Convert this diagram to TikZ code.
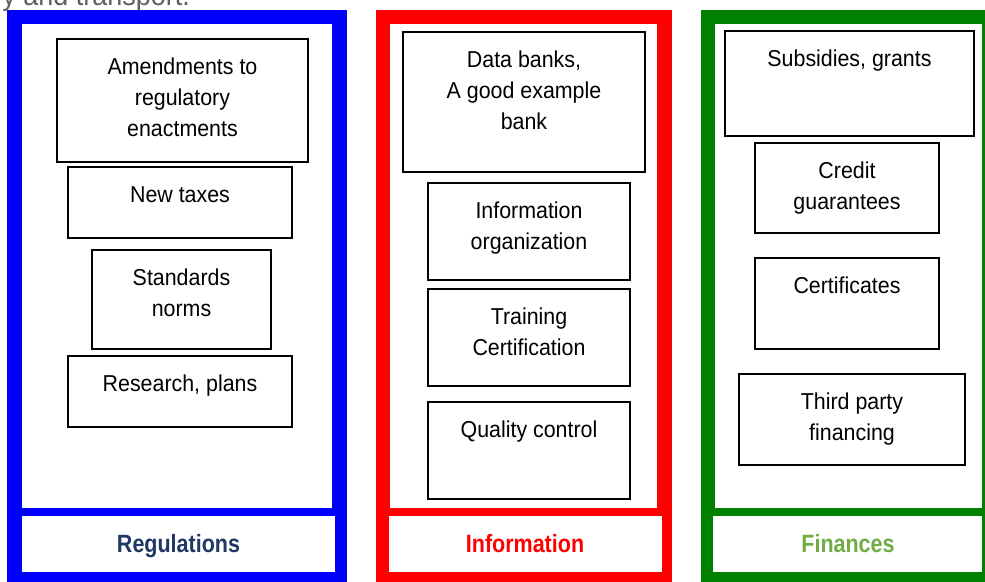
\documentclass[tikz,border=0pt]{standalone}
\usepackage{fontspec}
\setmainfont{Liberation Sans}[FakeStretch=0.93]
\newfontfamily\titlefont{Liberation Sans}[FakeStretch=0.86]
\usetikzlibrary{shadows}

\definecolor{regblue}{RGB}{0,0,255}
\definecolor{infored}{RGB}{255,0,0}
\definecolor{fingreen}{RGB}{0,128,0}
\definecolor{regnavy}{RGB}{32,56,100}
\definecolor{finlight}{RGB}{112,173,71}
\definecolor{headgray}{RGB}{95,95,95}

% #1 name, #2 left, #3 top, #4 right, #5 bottom, #6 text (top aligned)
\newcommand\cellbox[6]{%
  \node[cell, minimum width={(#4-#2)*1pt}, minimum height={(#5-#3)*1pt}]
    (#1) at ({(#2+#4)/2},{(#3+#5)/2}) {};
  \node[celltext] (#1-text) at ({(#2+#4)/2},{#3+35}) {\parbox[t]{300pt}{\centering #6}};
}

\begin{document}
\begin{tikzpicture}[x=1pt,y=-1pt,
  cell/.style={draw=black, line width=1.4pt, fill=white, inner sep=0pt,
    drop shadow={shadow xshift=1pt, shadow yshift=-1pt, opacity=0.55, fill=black}},
  celltext/.style={anchor=base, inner sep=0pt, font=\fontsize{23}{31}\selectfont},
  paneltitle/.style={anchor=base, inner sep=0pt, font=\titlefont\bfseries\fontsize{25}{30}\selectfont},
]
\useasboundingbox (0,0) rectangle (985,581);
\clip (0,0) rectangle (985,581);

% heading line running off the top edge
\node[anchor=base east, inner sep=0pt, text=headgray,
  font=\fontsize{29}{34}\selectfont] (heading) at (190,5) {y and transport.};

% Regulations panel
\fill[regblue] (7,10) rectangle (347,595);
\fill[white] (22,24) rectangle (332,508);
\fill[white] (22,516) rectangle (335,572);
\node[paneltitle, text=regnavy] (reg-title) at (178.5,552) {Regulations};

% Information panel
\fill[infored] (376,10) rectangle (672,595);
\fill[white] (390,24) rectangle (657,508);
\fill[white] (389,516) rectangle (662,572);
\node[paneltitle, text=infored] (info-title) at (525,552) {Information};

% Finances panel
\fill[fingreen] (701,10) rectangle (1000,595);
\fill[white] (715,24) rectangle (982,508);
\fill[white] (713,516) rectangle (982,572);
\node[paneltitle, text=finlight] (fin-title) at (848,552) {Finances};

% Regulations items
\cellbox{r1}{57}{39}{308}{162}{Amendments to\\regulatory\\enactments}
\cellbox{r2}{68}{167}{292}{238}{New taxes}
\cellbox{r3}{92}{250}{271}{349}{Standards\\norms}
\cellbox{r4}{68}{356}{292}{427}{Research, plans}

% Information items
\cellbox{i1}{403}{32}{645}{172}{Data banks,\\A good example\\bank}
\cellbox{i2}{428}{183}{630}{280}{Information\\organization}
\cellbox{i3}{428}{289}{630}{386}{Training\\Certification}
\cellbox{i4}{428}{402}{630}{499}{Quality control}

% Finances items
\cellbox{f1}{725}{31}{974}{136}{Subsidies, grants}
\cellbox{f2}{755}{143}{939}{233}{Credit\\guarantees}
\cellbox{f3}{755}{258}{939}{349}{Certificates}
\cellbox{f4}{739}{374}{965}{465}{Third party\\financing}
\end{tikzpicture}
\end{document}
